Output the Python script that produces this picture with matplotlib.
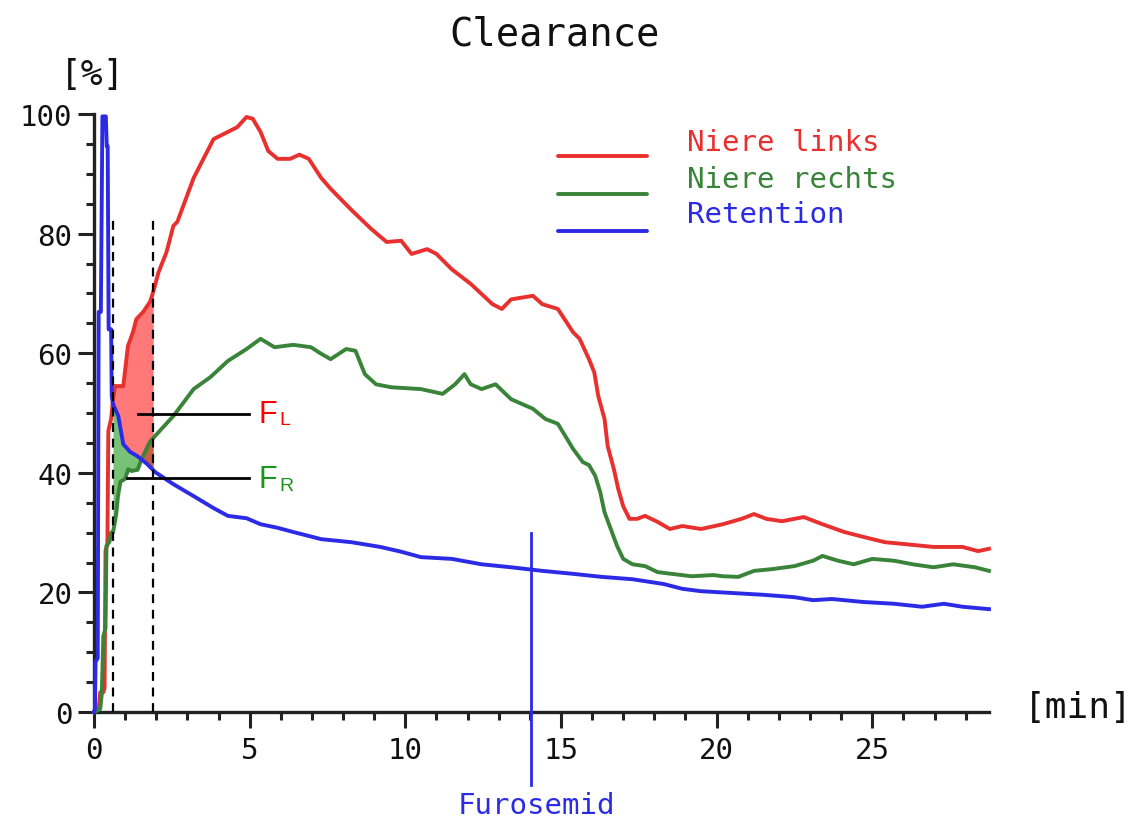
import numpy as np
import matplotlib
matplotlib.use("Agg")
import matplotlib.pyplot as plt
from matplotlib.ticker import MultipleLocator

# ---------------- data ----------------
red_x = [0, 0.15, 0.2, 0.3, 0.34, 0.37, 0.43, 0.46, 0.55, 0.61, 0.68, 0.94, 1.03, 1.09, 1.25, 1.36,
         1.58, 1.8, 1.9, 2.07, 2.33, 2.55, 2.68, 3.2, 3.84, 4.6, 4.9, 5.1, 5.35, 5.6, 5.9, 6.3, 6.6,
         6.9, 7.3, 7.6, 8.26, 8.9, 9.4, 9.87, 10.2, 10.7, 11.0, 11.5, 12.1, 12.8, 13.1, 13.4, 14.1,
         14.4, 14.9, 15.39, 15.6, 15.9, 16.07, 16.2, 16.4, 16.5, 16.7, 16.84, 17.0, 17.2, 17.45,
         17.7, 18.1, 18.5, 18.9, 19.5, 20.2, 20.8, 21.2, 21.6, 22.1, 22.8, 23.4, 24.1, 24.7, 25.4,
         26.0, 26.97, 27.9, 28.4, 28.75]
red_y = [0, 0.5, 3.3, 3.3, 4, 27, 28, 47, 49, 52.3, 54.5, 54.5, 58.5, 61.2, 63.5, 65.7,
         66.9, 68.6, 70.2, 73.5, 76.9, 81.3, 82, 89.3, 95.8, 97.8, 99.5, 99.2, 97, 93.8, 92.5, 92.5, 93.2,
         92.5, 89.3, 87.5, 84, 80.8, 78.6, 78.8, 76.6, 77.4, 76.6, 74, 71.6, 68.2, 67.4, 69, 69.6,
         68.2, 67.4, 63.5, 62.4, 59, 56.8, 52.8, 49, 44.5, 40.6, 37.3, 34.4, 32.3, 32.3,
         32.8, 31.8, 30.6, 31.1, 30.6, 31.4, 32.3, 33.1, 32.3, 31.9, 32.6, 31.4, 30.1, 29.3, 28.4,
         28.1, 27.6, 27.6, 26.9, 27.3]

green_x = [0, 0.2, 0.25, 0.3, 0.37, 0.4, 0.5, 0.55, 0.61, 0.68, 0.72, 0.77, 0.85, 1.0, 1.1, 1.2,
           1.4, 1.53, 1.8, 1.97, 2.55, 3.2, 3.74, 4.3, 4.9, 5.35, 5.8, 6.4, 6.97, 7.3, 7.6, 8.1,
           8.4, 8.7, 9.06, 9.55, 10.5, 11.2, 11.6, 11.9, 12.1, 12.45, 12.9, 13.4, 14.1, 14.5, 14.9,
           15.39, 15.7, 15.9, 16.1, 16.26, 16.4, 16.6, 16.8, 17.0, 17.3, 17.7, 18.1, 18.4, 19.2,
           19.9, 20.2, 20.7, 21.2, 21.8, 22.5, 23.1, 23.4, 23.9, 24.4, 25.0, 25.7, 26.3, 26.97,
           27.6, 28.3, 28.75]
green_y = [0, 0.5, 3, 12.7, 14, 27.8, 28.5, 30, 30, 32, 33.4, 36.1, 38.5, 39, 40.6, 40.3,
           40.5, 42.3, 45.2, 46.2, 49.5, 54, 56, 58.7, 60.7, 62.4, 61, 61.4, 61, 59.9, 59, 60.7,
           60.4, 56.5, 54.8, 54.3, 54, 53.2, 54.8, 56.5, 54.8, 54, 54.8, 52.3, 50.7, 49, 48.2,
           44, 41.8, 41.3, 39.5, 36.8, 33.4, 30.6, 27.8, 25.6, 24.7, 24.4, 23.4, 23.2, 22.7,
           22.9, 22.7, 22.6, 23.6, 23.9, 24.4, 25.3, 26.1, 25.3, 24.7, 25.6, 25.3, 24.7, 24.2,
           24.7, 24.2, 23.6]

blue_x = [0, 0.03, 0.05, 0.12, 0.15, 0.22, 0.27, 0.38, 0.41, 0.44, 0.47, 0.55, 0.57, 0.61, 0.78,
          0.94, 1.16, 1.39, 1.7, 1.97, 2.55, 3.2, 3.84, 4.3, 4.9, 5.35, 5.9, 6.4, 7.3, 8.26, 9.2,
          9.87, 10.5, 11.5, 12.45, 13.4, 14.4, 15.4, 16.3, 17.3, 18.3, 18.9, 19.5, 20.5, 21.5,
          22.5, 23.1, 23.7, 24.7, 25.7, 26.6, 27.3, 27.9, 28.75]
blue_y = [0, 0.5, 8.4, 9, 66.9, 66.9, 99.6, 99.6, 94.6, 94.6, 64, 64, 52.8, 51.5, 49.5,
          44.8, 43.5, 42.8, 41.5, 40.1, 38.1, 36.1, 34.1, 32.8, 32.4, 31.4, 30.8, 30.1, 28.9, 28.4, 27.6,
          26.8, 25.9, 25.6, 24.7, 24.2, 23.6, 23.1, 22.6, 22.2, 21.4, 20.6, 20.2, 19.9, 19.6,
          19.2, 18.7, 18.9, 18.4, 18.1, 17.6, 18.1, 17.6, 17.2]

series_labels = ["Niere links", "Niere rechts", "Retention"]
x_ticks = [0, 5, 10, 15, 20, 25]
y_ticks = [0, 20, 40, 60, 80, 100]
window = [0.61, 1.9]       # integration window (dashed lines)
furosemid_t = 14.05

# ---------------- style ----------------
RED = "#e8302e"
GREEN = "#3a843a"
BLUE = "#2b2be6"
MONO = "DejaVu Sans Mono"

fig = plt.figure(figsize=(11.44, 8.2), dpi=100)
ax = fig.add_axes([94/1144, 1-713/820, (989-94)/1144, (713-115)/820])

# fills
xf = np.linspace(window[0], window[1], 400)
rf = np.interp(xf, red_x, red_y)
gf = np.interp(xf, green_x, green_y)
bf = np.interp(xf, blue_x, blue_y)
ax.fill_between(xf, gf, bf, color="#1f9a1f", alpha=0.6, linewidth=0, zorder=2)
ax.fill_between(xf, bf, rf, color="#ff2020", alpha=0.6, linewidth=0, zorder=2)

lw = 2.8
ax.plot(red_x, red_y, color=RED, lw=lw, zorder=4, clip_on=False)
ax.plot(green_x, green_y, color=GREEN, lw=lw, zorder=4, clip_on=False)
ax.plot(blue_x, blue_y, color=BLUE, lw=lw, zorder=4, clip_on=False)

# dashed window lines
for xv in window:
    ax.plot([xv, xv], [0, 83], color="black", lw=1.6, ls=(0, (4, 3)), zorder=5)

# Furosemid marker
ax.plot([furosemid_t, furosemid_t], [30, -12.2], color=BLUE, lw=2.0, zorder=5, clip_on=False)
ax.text(furosemid_t + 0.15, -15.5, "Furosemid", color=BLUE, fontfamily=MONO, fontsize=21,
        ha="center", va="center", clip_on=False)

# F_L / F_R annotations
ax.plot([1.4, 4.98], [49.9, 49.9], color="black", lw=2.0, zorder=6)
ax.plot([1.05, 4.98], [39.1, 39.1], color="black", lw=2.0, zorder=6)
ax.text(5.3, 49.9, "F", color="#ff0000", fontfamily="Liberation Sans", fontsize=22,
        ha="left", va="center")
ax.annotate("L", xy=(5.3, 49.9), xytext=(14.5, -4.5), textcoords="offset points",
            color="#ff0000", fontfamily="Liberation Sans", fontsize=14, ha="left", va="center")
ax.text(5.3, 38.9, "F", color="#1a961a", fontfamily="Liberation Sans", fontsize=22,
        ha="left", va="center")
ax.annotate("R", xy=(5.3, 38.9), xytext=(14.5, -4.5), textcoords="offset points",
            color="#1a961a", fontfamily="Liberation Sans", fontsize=14, ha="left", va="center")

# legend (drawn manually)
leg_cols = [RED, GREEN, BLUE]
leg_line_y = [93.0, 86.6, 80.4]
leg_text_y = [95.3, 89.1, 83.3]
for lab, c, ly, ty in zip(series_labels, leg_cols, leg_line_y, leg_text_y):
    ax.plot([14.9, 17.75], [ly, ly], color=c, lw=2.8, solid_capstyle="round")
    ax.text(19.05, ty, lab, color=c, fontfamily=MONO, fontsize=21, ha="left", va="center")

# axes
ax.set_xlim(0, 28.75)
ax.set_ylim(0, 100)
for s in ["top", "right"]:
    ax.spines[s].set_visible(False)
for s in ["left", "bottom"]:
    ax.spines[s].set_linewidth(2.4)
    ax.spines[s].set_color("#222222")
ax.set_xticks(x_ticks)
ax.set_yticks(y_ticks)
ax.xaxis.set_minor_locator(MultipleLocator(1))
ax.yaxis.set_minor_locator(MultipleLocator(5))
ax.tick_params(which="major", direction="out", length=11.5, width=2.2, color="#222222")
ax.tick_params(which="minor", direction="out", length=5.5, width=2.2, color="#222222")
ax.tick_params(axis="x", which="major", pad=6)
ax.tick_params(axis="y", which="major", pad=4)
for lab in ax.get_xticklabels() + ax.get_yticklabels():
    lab.set_fontfamily(MONO)
    lab.set_fontsize(21)
    lab.set_color("#111111")

fig.text(555/1144, 1-35/820, "Clearance", fontfamily=MONO, fontsize=28, ha="center",
         va="center", color="#111111")
fig.text(92/1144, 1-75/820, "[%]", fontfamily=MONO, fontsize=26, ha="center", va="center",
         color="#111111")
fig.text(1078/1144, 1-708/820, "[min]", fontfamily=MONO, fontsize=26, ha="center", va="center",
         color="#111111")

fig.savefig("out.png", dpi=100)
